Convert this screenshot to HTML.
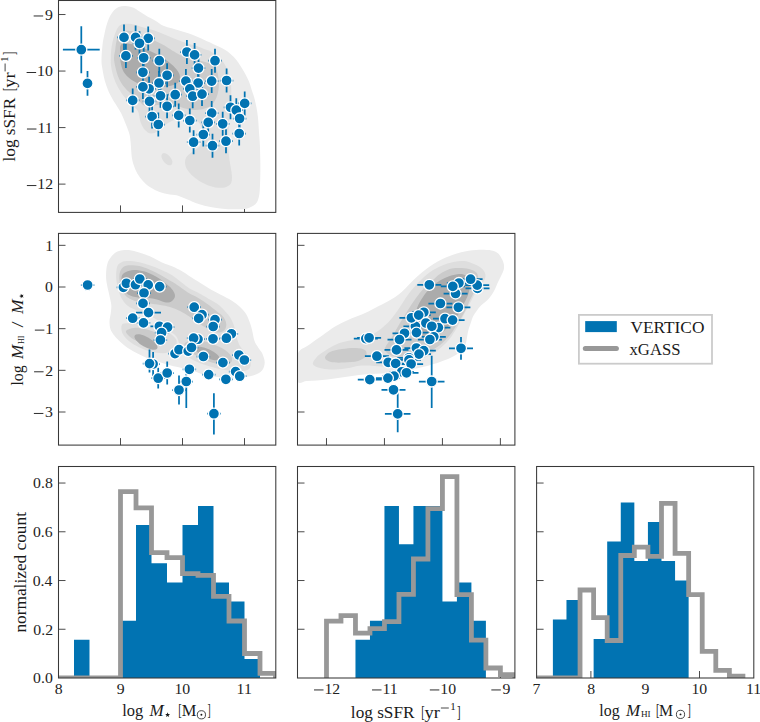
<!DOCTYPE html><html><head><meta charset="utf-8"><style>html,body{margin:0;padding:0;background:#fff;width:760px;height:722px;overflow:hidden}svg{display:block}.t{font-family:"Liberation Serif",serif;font-size:14.6px;fill:#222}.l{font-family:"Liberation Serif",serif;font-size:17px;fill:#1a1a1a}.i{font-style:italic}</style></head><body>
<svg width="760" height="722" viewBox="0 0 760 722">
<defs><clipPath id="c00"><rect x="58.5" y="0.5" width="217.3" height="211.9"/></clipPath><clipPath id="c10"><rect x="58.5" y="233.4" width="217.3" height="211.7"/></clipPath><clipPath id="c11"><rect x="297.5" y="233.4" width="217.4" height="211.7"/></clipPath><clipPath id="c20"><rect x="58.5" y="466.5" width="217.3" height="211.5"/></clipPath><clipPath id="c21"><rect x="297.5" y="466.5" width="217.4" height="211.5"/></clipPath><clipPath id="c22"><rect x="536.6" y="466.5" width="217.2" height="211.5"/></clipPath></defs>
<rect width="760" height="722" fill="#fff"/>
<path d="M120.50,212.40V205.40" stroke="#383838" stroke-width="0.9"/>
<path d="M182.50,212.40V205.40" stroke="#383838" stroke-width="0.9"/>
<path d="M244.50,212.40V205.40" stroke="#383838" stroke-width="0.9"/>
<path d="M58.50,14.52H65.50" stroke="#383838" stroke-width="0.9"/>
<path d="M58.50,71.05H65.50" stroke="#383838" stroke-width="0.9"/>
<path d="M58.50,127.58H65.50" stroke="#383838" stroke-width="0.9"/>
<path d="M58.50,184.11H65.50" stroke="#383838" stroke-width="0.9"/>
<path d="M120.50,445.10V438.10" stroke="#383838" stroke-width="0.9"/>
<path d="M182.50,445.10V438.10" stroke="#383838" stroke-width="0.9"/>
<path d="M244.50,445.10V438.10" stroke="#383838" stroke-width="0.9"/>
<path d="M58.50,245.33H65.50" stroke="#383838" stroke-width="0.9"/>
<path d="M58.50,287.00H65.50" stroke="#383838" stroke-width="0.9"/>
<path d="M58.50,328.67H65.50" stroke="#383838" stroke-width="0.9"/>
<path d="M58.50,370.34H65.50" stroke="#383838" stroke-width="0.9"/>
<path d="M58.50,412.01H65.50" stroke="#383838" stroke-width="0.9"/>
<path d="M326.49,445.10V438.10" stroke="#383838" stroke-width="0.9"/>
<path d="M384.45,445.10V438.10" stroke="#383838" stroke-width="0.9"/>
<path d="M442.43,445.10V438.10" stroke="#383838" stroke-width="0.9"/>
<path d="M500.39,445.10V438.10" stroke="#383838" stroke-width="0.9"/>
<path d="M297.50,245.33H304.50" stroke="#383838" stroke-width="0.9"/>
<path d="M297.50,287.00H304.50" stroke="#383838" stroke-width="0.9"/>
<path d="M297.50,328.67H304.50" stroke="#383838" stroke-width="0.9"/>
<path d="M297.50,370.34H304.50" stroke="#383838" stroke-width="0.9"/>
<path d="M297.50,412.01H304.50" stroke="#383838" stroke-width="0.9"/>
<path d="M120.50,678.00V671.00" stroke="#383838" stroke-width="0.9"/>
<path d="M182.50,678.00V671.00" stroke="#383838" stroke-width="0.9"/>
<path d="M244.50,678.00V671.00" stroke="#383838" stroke-width="0.9"/>
<path d="M58.50,629.26H65.50" stroke="#383838" stroke-width="0.9"/>
<path d="M58.50,580.52H65.50" stroke="#383838" stroke-width="0.9"/>
<path d="M58.50,531.78H65.50" stroke="#383838" stroke-width="0.9"/>
<path d="M58.50,483.04H65.50" stroke="#383838" stroke-width="0.9"/>
<path d="M326.49,678.00V671.00" stroke="#383838" stroke-width="0.9"/>
<path d="M384.45,678.00V671.00" stroke="#383838" stroke-width="0.9"/>
<path d="M442.43,678.00V671.00" stroke="#383838" stroke-width="0.9"/>
<path d="M500.39,678.00V671.00" stroke="#383838" stroke-width="0.9"/>
<path d="M297.50,629.26H304.50" stroke="#383838" stroke-width="0.9"/>
<path d="M297.50,580.52H304.50" stroke="#383838" stroke-width="0.9"/>
<path d="M297.50,531.78H304.50" stroke="#383838" stroke-width="0.9"/>
<path d="M297.50,483.04H304.50" stroke="#383838" stroke-width="0.9"/>
<path d="M590.90,678.00V671.00" stroke="#383838" stroke-width="0.9"/>
<path d="M645.20,678.00V671.00" stroke="#383838" stroke-width="0.9"/>
<path d="M699.50,678.00V671.00" stroke="#383838" stroke-width="0.9"/>
<path d="M536.60,629.26H543.60" stroke="#383838" stroke-width="0.9"/>
<path d="M536.60,580.52H543.60" stroke="#383838" stroke-width="0.9"/>
<path d="M536.60,531.78H543.60" stroke="#383838" stroke-width="0.9"/>
<path d="M536.60,483.04H543.60" stroke="#383838" stroke-width="0.9"/>
<g clip-path="url(#c00)">
<path d="M101.5,60.0 C101.5,56.2 102.0,49.5 102.5,45.0 C103.0,40.5 103.7,37.3 104.6,33.3 C105.5,29.3 106.6,24.4 108.0,20.8 C109.4,17.2 111.2,13.9 113.0,11.6 C114.8,9.3 116.7,8.0 118.8,7.1 C120.9,6.2 123.1,5.9 125.4,6.0 C127.8,6.1 130.5,6.6 132.9,7.5 C135.3,8.4 137.4,10.2 139.6,11.6 C141.8,13.0 143.6,14.3 146.2,15.8 C148.8,17.3 152.2,18.8 155.0,20.5 C157.8,22.2 160.5,24.5 163.3,25.8 C166.1,27.1 168.8,27.5 171.6,28.3 C174.4,29.1 177.1,30.0 179.9,30.8 C182.7,31.6 185.5,32.3 188.3,33.3 C191.1,34.3 193.8,35.4 196.6,36.6 C199.4,37.8 202.1,39.0 204.9,40.3 C207.7,41.6 210.2,42.6 213.5,44.2 C216.8,45.8 221.6,47.7 224.9,49.8 C228.2,51.9 230.8,54.1 233.3,56.6 C235.8,59.1 238.0,62.1 239.9,64.9 C241.8,67.7 243.4,70.5 244.9,73.3 C246.4,76.1 247.9,78.8 249.0,81.6 C250.1,84.4 250.8,87.2 251.7,89.9 C252.6,92.6 253.4,94.6 254.2,97.5 C255.0,100.4 255.8,103.8 256.5,107.5 C257.2,111.2 257.8,115.8 258.2,120.0 C258.6,124.2 258.7,128.2 259.0,132.4 C259.3,136.6 259.7,140.3 259.9,144.9 C260.1,149.5 260.2,155.0 260.3,160.0 C260.4,165.0 260.4,170.8 260.3,175.0 C260.2,179.2 260.2,181.6 260.0,185.0 C259.8,188.4 259.8,192.5 259.1,195.7 C258.4,198.9 257.8,201.8 255.6,204.0 C253.4,206.2 249.7,207.8 246.1,208.7 C242.5,209.6 238.1,209.3 234.2,209.3 C230.2,209.3 226.3,209.1 222.4,208.7 C218.5,208.3 214.4,207.7 210.5,206.9 C206.6,206.1 202.6,205.3 198.7,204.0 C194.8,202.7 190.1,200.5 186.8,199.2 C183.5,197.8 181.6,196.7 178.8,195.9 C176.0,195.1 173.0,195.2 169.8,194.6 C166.6,194.0 162.8,193.3 159.6,192.1 C156.4,190.9 153.4,189.4 150.7,187.6 C147.9,185.8 145.3,183.5 143.1,181.2 C140.9,178.9 138.9,176.4 137.3,173.6 C135.7,170.8 134.4,167.6 133.5,164.6 C132.6,161.6 132.0,158.9 131.6,155.7 C131.2,152.5 131.2,148.9 130.9,145.5 C130.6,142.1 130.3,138.1 129.7,135.3 C129.1,132.5 128.4,130.9 127.5,128.5 C126.6,126.1 125.5,123.5 124.5,121.0 C123.5,118.5 122.5,115.9 121.3,113.5 C120.1,111.1 118.6,109.0 117.1,106.5 C115.6,104.0 113.6,101.0 112.1,98.2 C110.6,95.4 109.2,93.0 108.0,89.9 C106.8,86.9 105.6,83.6 104.6,79.9 C103.6,76.2 102.7,70.8 102.2,67.5 C101.7,64.2 101.5,63.8 101.5,60.0Z" fill="#ebebeb"/>
<path d="M111.2,50.0 C111.5,47.3 111.9,44.5 112.5,42.0 C113.1,39.5 113.7,37.4 114.6,35.0 C115.5,32.6 116.6,29.2 118.0,27.4 C119.4,25.6 120.7,24.7 122.9,24.1 C125.1,23.6 128.5,23.7 131.3,24.1 C134.2,24.5 137.4,25.8 140.0,26.5 C142.6,27.2 144.5,27.8 147.0,28.5 C149.5,29.2 152.3,29.9 155.0,30.8 C157.7,31.7 160.5,33.0 163.3,34.1 C166.1,35.2 168.8,36.3 171.6,37.4 C174.4,38.5 177.4,39.8 179.9,40.8 C182.4,41.8 183.8,42.4 186.6,43.3 C189.4,44.2 193.7,45.0 196.6,46.0 C199.5,47.0 201.8,48.2 204.0,49.0 C206.2,49.8 207.9,49.9 210.0,51.0 C212.1,52.1 214.5,53.8 216.6,55.5 C218.7,57.2 220.5,58.5 222.4,61.0 C224.3,63.5 226.5,67.1 227.9,70.4 C229.3,73.7 230.0,77.3 230.6,80.8 C231.2,84.3 231.3,87.8 231.3,91.2 C231.3,94.7 230.9,97.5 230.6,101.5 C230.3,105.5 229.8,110.2 229.5,115.0 C229.2,119.8 228.8,125.0 228.5,130.0 C228.2,135.0 227.8,140.0 228.0,145.0 C228.2,150.0 228.8,154.9 229.5,160.0 C230.2,165.1 231.7,171.5 231.9,175.5 C232.1,179.5 231.9,181.8 230.7,183.8 C229.5,185.8 227.4,186.8 224.8,187.4 C222.2,188.0 218.7,188.0 215.3,187.4 C211.9,186.8 208.0,185.4 204.6,183.8 C201.2,182.2 197.9,180.1 195.1,177.9 C192.3,175.7 189.7,173.2 188.0,170.8 C186.3,168.4 185.3,166.0 185.1,163.7 C184.8,161.4 185.3,158.9 186.5,157.0 C187.7,155.1 189.8,153.8 192.0,152.0 C194.2,150.2 198.2,148.8 200.0,146.0 C201.8,143.2 203.0,138.7 203.0,135.0 C203.0,131.3 201.8,126.7 200.0,124.0 C198.2,121.3 195.3,120.0 192.0,119.0 C188.7,118.0 184.0,117.3 180.0,118.0 C176.0,118.7 171.7,120.8 168.0,123.0 C164.3,125.2 160.8,129.2 158.0,131.0 C155.2,132.8 153.2,133.7 151.0,133.5 C148.8,133.3 146.8,131.9 145.0,130.0 C143.2,128.1 141.7,125.2 140.5,122.0 C139.3,118.8 139.4,113.8 137.9,111.0 C136.4,108.2 133.4,107.0 131.3,104.9 C129.2,102.8 127.4,100.7 125.4,98.2 C123.5,95.7 121.4,93.0 119.6,89.9 C117.8,86.9 116.0,83.6 114.6,79.9 C113.2,76.2 111.9,71.2 111.3,67.5 C110.7,63.9 110.8,60.9 110.8,58.0 C110.8,55.1 110.9,52.7 111.2,50.0Z" fill="#dedede"/>
<path d="M115.2,49.9 C115.6,47.1 115.8,43.7 116.5,41.0 C117.2,38.3 118.0,35.2 119.5,33.5 C121.0,31.8 122.8,31.1 125.4,30.8 C128.0,30.6 131.7,31.1 135.0,32.0 C138.3,32.9 141.7,34.5 145.0,36.0 C148.3,37.5 152.2,39.4 155.0,40.8 C157.8,42.1 159.5,43.0 161.6,44.1 C163.7,45.2 165.4,46.1 167.5,47.4 C169.6,48.6 172.0,50.4 174.1,51.6 C176.2,52.9 177.3,53.9 180.0,54.9 C182.7,55.9 186.7,56.5 190.0,57.5 C193.3,58.5 197.0,59.9 200.0,60.8 C203.0,61.7 205.4,62.0 208.0,63.0 C210.6,64.0 213.6,63.9 215.4,66.9 C217.2,69.9 218.5,76.2 218.8,80.8 C219.2,85.4 218.7,90.6 217.5,94.6 C216.3,98.6 214.3,102.6 211.9,105.0 C209.5,107.4 206.0,108.2 203.0,109.0 C200.0,109.8 197.0,110.1 194.0,110.0 C191.0,109.9 188.2,109.3 185.0,108.5 C181.8,107.7 178.3,105.8 175.0,105.0 C171.7,104.2 168.3,103.9 165.0,104.0 C161.7,104.1 157.8,105.1 155.0,105.5 C152.2,105.9 150.1,106.7 147.9,106.5 C145.8,106.3 144.1,105.9 142.1,104.2 C140.1,102.5 138.3,98.6 136.2,96.6 C134.1,94.6 131.7,94.1 129.6,92.4 C127.5,90.7 125.6,88.9 123.8,86.6 C122.0,84.2 120.2,81.5 118.8,78.3 C117.4,75.1 116.3,70.9 115.5,67.5 C114.7,64.1 114.0,60.9 114.0,58.0 C114.0,55.1 114.8,52.7 115.2,49.9Z" fill="#cbcbcb"/>
<path d="M120.0,51.0 C120.0,48.3 119.8,46.8 120.5,45.5 C121.2,44.2 122.2,43.8 124.0,43.5 C125.8,43.2 128.1,43.4 131.0,44.0 C133.9,44.6 138.1,46.0 141.6,47.3 C145.1,48.6 148.6,50.3 152.1,52.0 C155.6,53.7 159.1,55.1 162.6,57.4 C166.1,59.7 170.4,63.0 173.2,65.8 C176.0,68.6 178.6,71.6 179.5,74.2 C180.4,76.8 179.9,79.8 178.8,81.6 C177.8,83.4 175.9,84.1 173.2,85.0 C170.5,85.9 166.1,86.7 162.6,87.0 C159.1,87.3 155.5,87.3 152.0,87.0 C148.5,86.7 145.1,86.2 141.6,85.0 C138.1,83.8 134.0,81.7 131.0,79.5 C128.0,77.3 125.5,75.1 123.7,72.1 C122.0,69.1 121.1,65.1 120.5,61.6 C119.9,58.1 120.0,53.7 120.0,51.0Z" fill="#ababab"/>
<ellipse cx="166.9" cy="159.2" rx="7.2" ry="4.0" transform="rotate(50.0 166.9 159.2)" fill="#dedede"/>
</g>
<g clip-path="url(#c00)">
<g stroke="#0173b2" stroke-width="1.75" fill="none">
<path d="M81.3,26.2V73.2"/>
<path d="M62.9,49.7H99.7"/>
<path d="M87.5,71.1V95.7"/>
<path d="M82.0,83.4H93.0"/>
<path d="M124.0,24.4V49.9"/>
<path d="M117.3,37.4H130.7"/>
<path d="M135.6,25.4V49.4"/>
<path d="M128.9,37.4H142.3"/>
<path d="M148.2,26.4V50.4"/>
<path d="M141.5,38.4H154.9"/>
<path d="M139.5,31.3V55.3"/>
<path d="M132.8,43.3H146.2"/>
<path d="M125.9,43.9V67.9"/>
<path d="M119.2,55.9H132.6"/>
<path d="M143.7,45.8V69.8"/>
<path d="M137.0,57.8H150.4"/>
<path d="M159.3,48.7V72.7"/>
<path d="M152.6,60.7H166.0"/>
<path d="M142.9,60.3V84.3"/>
<path d="M136.2,72.3H149.6"/>
<path d="M149.1,76.8V100.8"/>
<path d="M142.4,88.8H155.8"/>
<path d="M142.9,74.9V98.9"/>
<path d="M136.2,86.9H149.6"/>
<path d="M159.0,71.0V95.0"/>
<path d="M152.3,83.0H165.7"/>
<path d="M132.7,88.4V112.4"/>
<path d="M126.0,100.4H139.4"/>
<path d="M149.5,89.4V113.4"/>
<path d="M142.8,101.4H156.2"/>
<path d="M160.5,83.8V107.8"/>
<path d="M153.8,95.8H167.2"/>
<path d="M152.1,104.5V128.5"/>
<path d="M145.4,116.5H158.8"/>
<path d="M158.3,112.5V136.5"/>
<path d="M151.6,124.5H165.0"/>
<path d="M186.9,40.0V64.0"/>
<path d="M180.2,52.0H193.6"/>
<path d="M194.6,42.9V66.9"/>
<path d="M187.9,54.9H201.3"/>
<path d="M215.0,48.7V72.7"/>
<path d="M208.3,60.7H221.7"/>
<path d="M198.5,56.1V80.1"/>
<path d="M191.8,68.1H205.2"/>
<path d="M167.1,63.3V87.3"/>
<path d="M160.4,75.3H173.8"/>
<path d="M185.9,69.1V93.1"/>
<path d="M179.2,81.1H192.6"/>
<path d="M198.1,71.0V95.0"/>
<path d="M191.4,83.0H204.8"/>
<path d="M211.7,69.1V93.1"/>
<path d="M205.0,81.1H218.4"/>
<path d="M226.6,68.5V92.5"/>
<path d="M219.9,80.5H233.3"/>
<path d="M175.2,82.7V106.7"/>
<path d="M168.5,94.7H181.9"/>
<path d="M189.8,76.9V100.9"/>
<path d="M183.1,88.9H196.5"/>
<path d="M192.7,84.2V108.2"/>
<path d="M186.0,96.2H199.4"/>
<path d="M202.0,82.1V106.1"/>
<path d="M195.3,94.1H208.7"/>
<path d="M167.1,94.3V118.3"/>
<path d="M160.4,106.3H173.8"/>
<path d="M178.7,103.4V127.4"/>
<path d="M172.0,115.4H185.4"/>
<path d="M189.8,108.5V132.5"/>
<path d="M183.1,120.5H196.5"/>
<path d="M211.7,101.1V125.1"/>
<path d="M205.0,113.1H218.4"/>
<path d="M208.2,110.4V134.4"/>
<path d="M201.5,122.4H214.9"/>
<path d="M222.7,111.8V135.8"/>
<path d="M216.0,123.8H229.4"/>
<path d="M230.5,95.3V119.3"/>
<path d="M223.8,107.3H237.2"/>
<path d="M236.3,98.2V122.2"/>
<path d="M229.6,110.2H243.0"/>
<path d="M244.7,91.4V115.4"/>
<path d="M238.0,103.4H251.4"/>
<path d="M239.6,106.5V130.5"/>
<path d="M232.9,118.5H246.3"/>
<path d="M239.2,121.5V145.5"/>
<path d="M232.5,133.5H245.9"/>
<path d="M203.3,122.5V146.5"/>
<path d="M196.6,134.5H210.0"/>
<path d="M193.6,130.2V154.2"/>
<path d="M186.9,142.2H200.3"/>
<path d="M212.5,133.7V157.7"/>
<path d="M205.8,145.7H219.2"/>
<path d="M226.0,129.2V153.2"/>
<path d="M219.3,141.2H232.7"/>
</g>
<g fill="#0173b2" stroke="#fff" stroke-width="1.3">
<circle cx="81.3" cy="49.7" r="5.5"/>
<circle cx="87.5" cy="83.4" r="5.5"/>
<circle cx="124.0" cy="37.4" r="5.5"/>
<circle cx="135.6" cy="37.4" r="5.5"/>
<circle cx="148.2" cy="38.4" r="5.5"/>
<circle cx="139.5" cy="43.3" r="5.5"/>
<circle cx="125.9" cy="55.9" r="5.5"/>
<circle cx="143.7" cy="57.8" r="5.5"/>
<circle cx="159.3" cy="60.7" r="5.5"/>
<circle cx="142.9" cy="72.3" r="5.5"/>
<circle cx="149.1" cy="88.8" r="5.5"/>
<circle cx="142.9" cy="86.9" r="5.5"/>
<circle cx="159.0" cy="83.0" r="5.5"/>
<circle cx="132.7" cy="100.4" r="5.5"/>
<circle cx="149.5" cy="101.4" r="5.5"/>
<circle cx="160.5" cy="95.8" r="5.5"/>
<circle cx="152.1" cy="116.5" r="5.5"/>
<circle cx="158.3" cy="124.5" r="5.5"/>
<circle cx="186.9" cy="52.0" r="5.5"/>
<circle cx="194.6" cy="54.9" r="5.5"/>
<circle cx="215.0" cy="60.7" r="5.5"/>
<circle cx="198.5" cy="68.1" r="5.5"/>
<circle cx="167.1" cy="75.3" r="5.5"/>
<circle cx="185.9" cy="81.1" r="5.5"/>
<circle cx="198.1" cy="83.0" r="5.5"/>
<circle cx="211.7" cy="81.1" r="5.5"/>
<circle cx="226.6" cy="80.5" r="5.5"/>
<circle cx="175.2" cy="94.7" r="5.5"/>
<circle cx="189.8" cy="88.9" r="5.5"/>
<circle cx="192.7" cy="96.2" r="5.5"/>
<circle cx="202.0" cy="94.1" r="5.5"/>
<circle cx="167.1" cy="106.3" r="5.5"/>
<circle cx="178.7" cy="115.4" r="5.5"/>
<circle cx="189.8" cy="120.5" r="5.5"/>
<circle cx="211.7" cy="113.1" r="5.5"/>
<circle cx="208.2" cy="122.4" r="5.5"/>
<circle cx="222.7" cy="123.8" r="5.5"/>
<circle cx="230.5" cy="107.3" r="5.5"/>
<circle cx="236.3" cy="110.2" r="5.5"/>
<circle cx="244.7" cy="103.4" r="5.5"/>
<circle cx="239.6" cy="118.5" r="5.5"/>
<circle cx="239.2" cy="133.5" r="5.5"/>
<circle cx="203.3" cy="134.5" r="5.5"/>
<circle cx="193.6" cy="142.2" r="5.5"/>
<circle cx="212.5" cy="145.7" r="5.5"/>
<circle cx="226.0" cy="141.2" r="5.5"/>
</g></g>
<g clip-path="url(#c10)">
<path d="M106.5,282.0 C106.0,278.3 106.0,276.1 106.1,273.2 C106.2,270.3 106.5,267.0 107.2,264.4 C107.9,261.8 109.0,259.7 110.5,257.7 C112.0,255.7 114.0,253.4 116.0,252.2 C118.0,250.9 120.1,250.5 122.7,250.2 C125.3,249.9 128.5,250.0 131.6,250.5 C134.7,251.0 138.4,252.3 141.5,253.3 C144.6,254.3 147.1,255.1 150.4,256.6 C153.7,258.1 157.8,260.5 161.5,262.2 C165.2,263.9 169.2,265.1 172.6,266.6 C175.9,268.1 178.7,269.4 181.6,271.0 C184.5,272.6 186.9,274.5 190.0,276.5 C193.1,278.5 196.9,280.8 200.4,283.0 C203.9,285.2 207.3,287.5 210.8,289.5 C214.3,291.5 217.8,293.2 221.2,295.0 C224.6,296.8 228.4,298.5 231.5,300.5 C234.6,302.5 237.4,304.6 239.8,306.8 C242.2,309.1 244.4,311.2 246.1,314.0 C247.8,316.8 249.1,320.5 250.2,323.5 C251.3,326.5 251.8,329.1 252.5,332.0 C253.2,334.9 253.5,338.3 254.5,341.0 C255.5,343.7 257.2,345.8 258.5,348.0 C259.8,350.2 261.5,351.6 262.5,354.0 C263.5,356.4 264.8,359.8 264.7,362.5 C264.6,365.2 263.9,368.3 262.0,370.5 C260.1,372.7 256.7,374.3 253.0,375.5 C249.3,376.7 245.2,377.2 240.0,377.5 C234.8,377.8 227.8,377.9 222.0,377.5 C216.2,377.1 209.6,376.1 205.0,375.0 C200.4,373.9 198.8,372.5 194.2,371.2 C189.6,369.9 182.9,368.5 177.6,367.1 C172.3,365.7 167.6,364.5 162.3,362.9 C157.0,361.3 151.0,359.6 145.7,357.4 C140.4,355.2 134.4,352.0 130.3,349.5 C126.2,347.0 123.6,344.7 121.0,342.4 C118.4,340.1 116.2,338.0 114.5,335.8 C112.8,333.6 111.3,331.6 110.5,329.2 C109.7,326.8 109.5,324.0 109.5,321.3 C109.5,318.6 110.5,315.7 110.8,313.0 C111.1,310.3 111.5,307.9 111.3,305.0 C111.1,302.1 110.2,299.2 109.4,295.4 C108.6,291.6 107.0,285.7 106.5,282.0Z" fill="#ebebeb"/>
<path d="M116.2,278.0 C116.0,274.1 116.3,269.2 117.2,266.6 C118.1,264.0 119.8,263.1 121.6,262.2 C123.4,261.3 125.2,261.1 128.2,261.1 C131.1,261.1 135.6,261.5 139.3,262.2 C143.0,262.9 146.7,264.2 150.4,265.5 C154.1,266.8 157.8,268.3 161.5,270.0 C165.2,271.7 169.2,273.4 172.6,275.5 C175.9,277.6 178.7,280.4 181.6,282.6 C184.5,284.8 186.9,286.8 190.0,288.7 C193.1,290.6 196.9,292.0 200.4,293.9 C203.9,295.8 207.7,298.2 210.8,300.1 C213.9,302.0 216.5,303.2 219.1,305.3 C221.7,307.4 224.2,310.2 226.3,312.6 C228.4,315.0 230.1,317.2 231.5,319.8 C232.9,322.4 233.8,325.2 234.7,328.2 C235.6,331.1 235.8,334.5 236.7,337.5 C237.6,340.5 238.4,343.2 240.0,346.0 C241.6,348.8 244.2,351.3 246.0,354.0 C247.8,356.7 250.0,359.5 250.5,362.0 C251.0,364.5 250.8,367.4 249.0,369.0 C247.2,370.6 244.0,371.3 240.0,371.5 C236.0,371.7 230.0,370.8 225.0,370.0 C220.0,369.2 215.0,368.0 210.0,366.5 C205.0,365.0 199.2,363.1 195.0,361.0 C190.8,358.9 187.5,356.7 185.0,354.0 C182.5,351.3 181.5,348.0 180.0,345.0 C178.5,342.0 178.0,338.5 176.0,336.0 C174.0,333.5 170.7,332.3 168.0,330.0 C165.3,327.7 163.0,324.3 160.0,322.0 C157.0,319.7 153.7,317.8 150.0,316.0 C146.3,314.2 141.7,312.7 138.0,311.0 C134.3,309.3 130.7,308.0 128.0,306.0 C125.3,304.0 123.6,301.7 122.0,299.0 C120.4,296.3 119.5,293.5 118.5,290.0 C117.5,286.5 116.4,281.9 116.2,278.0Z" fill="#dedede"/>
<path d="M121.7,325.3 C122.3,323.7 123.3,323.5 126.3,323.3 C129.3,323.1 135.1,323.2 139.5,324.0 C143.9,324.8 148.7,326.9 152.6,327.9 C156.5,328.9 160.2,329.1 163.0,330.0 C165.8,330.9 167.5,331.6 169.7,333.2 C171.9,334.8 175.4,337.4 176.3,339.7 C177.2,342.0 176.8,344.8 175.0,347.0 C173.2,349.2 169.6,352.1 165.8,352.9 C162.0,353.7 156.4,352.9 152.0,352.0 C147.6,351.1 143.3,349.4 139.5,347.6 C135.7,345.8 131.8,343.5 128.9,341.1 C126.1,338.7 123.6,335.8 122.4,333.2 C121.2,330.6 121.1,326.9 121.7,325.3Z" fill="#dedede"/>
<path d="M119.4,275.5 C119.6,272.8 120.3,270.5 121.6,268.8 C122.9,267.1 124.1,266.0 127.1,265.5 C130.1,265.0 135.4,265.2 139.3,266.0 C143.2,266.8 146.7,268.4 150.4,270.0 C154.1,271.6 157.8,273.5 161.5,275.5 C165.2,277.5 169.8,280.4 172.6,282.1 C175.4,283.8 175.8,284.1 178.4,285.8 C181.0,287.5 184.6,290.5 187.9,292.5 C191.2,294.5 195.0,296.0 198.3,298.0 C201.6,300.0 204.6,302.1 207.7,304.3 C210.8,306.6 214.4,309.4 217.0,311.5 C219.6,313.6 221.6,314.6 223.2,316.7 C224.8,318.8 226.1,321.8 226.3,324.0 C226.5,326.2 225.7,328.8 224.3,330.2 C222.9,331.6 220.4,332.5 218.0,332.5 C215.6,332.5 213.0,331.4 210.0,330.0 C207.0,328.6 203.3,326.2 200.0,324.0 C196.7,321.8 193.3,319.2 190.0,317.0 C186.7,314.8 183.3,312.7 180.0,311.0 C176.7,309.3 173.3,308.0 170.0,307.0 C166.7,306.0 163.3,305.6 160.0,305.0 C156.7,304.4 154.2,304.2 150.0,303.5 C145.8,302.8 139.2,302.4 135.0,301.0 C130.8,299.6 127.4,297.7 125.0,295.0 C122.6,292.3 121.4,288.2 120.5,285.0 C119.6,281.8 119.2,278.2 119.4,275.5Z" fill="#cbcbcb"/>
<path d="M126.3,330.5 C127.4,329.4 130.9,328.1 134.2,327.9 C137.5,327.7 142.3,328.3 146.0,329.2 C149.7,330.1 154.0,331.4 156.6,333.2 C159.2,334.9 161.6,337.7 161.8,339.7 C162.0,341.7 160.5,344.2 157.9,345.0 C155.3,345.8 149.9,345.4 146.0,344.5 C142.1,343.6 137.3,341.4 134.2,339.7 C131.1,338.0 128.9,336.0 127.6,334.5 C126.3,333.0 125.2,331.6 126.3,330.5Z" fill="#cbcbcb"/>
<path d="M185.0,343.0 C186.5,341.7 190.8,340.0 195.0,340.0 C199.2,340.0 205.0,341.3 210.0,343.0 C215.0,344.7 221.3,347.5 225.0,350.0 C228.7,352.5 231.3,355.7 232.0,358.0 C232.7,360.3 231.3,363.0 229.0,364.0 C226.7,365.0 222.0,364.7 218.0,364.0 C214.0,363.3 209.3,361.8 205.0,360.0 C200.7,358.2 195.2,355.0 192.0,353.0 C188.8,351.0 187.2,349.7 186.0,348.0 C184.8,346.3 183.5,344.3 185.0,343.0Z" fill="#cbcbcb"/>
<path d="M121.6,276.6 C122.1,274.1 124.0,273.2 126.0,272.1 C128.0,271.0 130.7,270.1 133.8,270.0 C136.9,269.9 141.1,270.5 144.8,271.6 C148.5,272.7 152.2,274.5 155.9,276.6 C159.6,278.7 164.2,282.2 167.0,284.4 C169.8,286.6 171.3,288.0 172.6,289.9 C173.9,291.8 175.1,294.1 175.0,296.0 C174.9,297.9 173.5,299.9 172.0,301.0 C170.5,302.1 168.4,302.8 165.9,302.5 C163.4,302.2 160.0,300.2 157.0,299.5 C154.0,298.8 151.2,298.3 148.0,298.0 C144.8,297.7 141.3,298.1 138.0,297.5 C134.7,296.9 130.5,296.2 128.0,294.5 C125.5,292.8 124.1,290.0 123.0,287.0 C121.9,284.0 121.1,279.1 121.6,276.6Z" fill="#ababab"/>
<ellipse cx="146.0" cy="342.0" rx="13.0" ry="5.0" transform="rotate(30.0 146.0 342.0)" fill="#ababab"/>
<ellipse cx="207.5" cy="353.5" rx="13.0" ry="4.5" transform="rotate(25.0 207.5 353.5)" fill="#ababab"/>
</g>
<g clip-path="url(#c10)">
<g stroke="#0173b2" stroke-width="1.75" fill="none">
<path d="M80.9,285.0H94.3"/>
<path d="M123.4,285.3V289.3"/>
<path d="M116.7,287.3H130.1"/>
<path d="M126.4,281.3V285.3"/>
<path d="M119.7,283.3H133.1"/>
<path d="M135.5,282.7V286.7"/>
<path d="M128.8,284.7H142.2"/>
<path d="M139.8,277.0V281.0"/>
<path d="M133.1,279.0H146.5"/>
<path d="M148.2,282.9V286.9"/>
<path d="M141.5,284.9H154.9"/>
<path d="M159.7,284.6V288.6"/>
<path d="M153.0,286.6H166.4"/>
<path d="M144.0,291.0V295.0"/>
<path d="M137.3,293.0H150.7"/>
<path d="M143.0,301.4V305.4"/>
<path d="M136.3,303.4H149.7"/>
<path d="M148.5,310.6V314.6"/>
<path d="M136.0,312.6H161.0"/>
<path d="M132.7,316.2V320.2"/>
<path d="M126.0,318.2H139.4"/>
<path d="M143.5,320.9V324.9"/>
<path d="M136.8,322.9H150.2"/>
<path d="M159.4,324.3V328.3"/>
<path d="M150.4,326.3H168.4"/>
<path d="M167.6,325.2V329.2"/>
<path d="M160.9,327.2H174.3"/>
<path d="M161.6,330.7V334.7"/>
<path d="M154.9,332.7H168.3"/>
<path d="M160.4,338.0V342.0"/>
<path d="M153.7,340.0H167.1"/>
<path d="M194.2,305.2V309.2"/>
<path d="M187.5,307.2H200.9"/>
<path d="M202.0,312.7V316.7"/>
<path d="M195.3,314.7H208.7"/>
<path d="M198.7,316.4V320.4"/>
<path d="M192.0,318.4H205.4"/>
<path d="M215.0,317.6V321.6"/>
<path d="M208.3,319.6H221.7"/>
<path d="M213.2,324.5V328.5"/>
<path d="M206.5,326.5H219.9"/>
<path d="M198.0,337.2V341.2"/>
<path d="M191.3,339.2H204.7"/>
<path d="M193.6,336.2V340.2"/>
<path d="M186.9,338.2H200.3"/>
<path d="M213.0,336.8V340.8"/>
<path d="M206.3,338.8H219.7"/>
<path d="M231.4,331.8V335.8"/>
<path d="M224.7,333.8H238.1"/>
<path d="M226.4,336.2V340.2"/>
<path d="M219.7,338.2H233.1"/>
<path d="M175.0,351.6V355.6"/>
<path d="M168.3,353.6H181.7"/>
<path d="M179.0,347.7V351.7"/>
<path d="M172.3,349.7H185.7"/>
<path d="M188.2,349.1V353.1"/>
<path d="M181.5,351.1H194.9"/>
<path d="M191.5,345.5V349.5"/>
<path d="M184.8,347.5H198.2"/>
<path d="M203.4,354.5V358.5"/>
<path d="M196.7,356.5H210.1"/>
<path d="M222.9,360.6V364.6"/>
<path d="M216.2,362.6H229.6"/>
<path d="M238.9,353.0V357.0"/>
<path d="M232.2,355.0H245.6"/>
<path d="M244.4,358.0V362.0"/>
<path d="M237.7,360.0H251.1"/>
<path d="M153.1,352.0V376.0"/>
<path d="M146.4,364.0H159.8"/>
<path d="M149.5,349.6V372.6"/>
<path d="M142.8,363.6H156.2"/>
<path d="M158.2,367.8V388.6"/>
<path d="M151.5,378.2H164.9"/>
<path d="M167.2,361.6V384.5"/>
<path d="M160.5,373.0H173.9"/>
<path d="M189.4,365.3V373.3"/>
<path d="M182.7,369.3H196.1"/>
<path d="M186.3,373.5V408.0"/>
<path d="M179.6,381.5H193.0"/>
<path d="M179.0,375.5V404.6"/>
<path d="M172.3,390.0H185.7"/>
<path d="M208.7,370.6V378.6"/>
<path d="M202.0,374.6H215.4"/>
<path d="M225.9,376.3V382.3"/>
<path d="M219.2,379.3H232.6"/>
<path d="M235.6,368.6V374.6"/>
<path d="M228.9,371.6H242.3"/>
<path d="M239.7,373.2V379.2"/>
<path d="M233.0,376.2H246.4"/>
<path d="M213.9,393.3V434.4"/>
<path d="M207.2,413.7H220.6"/>
</g>
<g fill="#0173b2" stroke="#fff" stroke-width="1.3">
<circle cx="87.6" cy="285.0" r="5.5"/>
<circle cx="123.4" cy="287.3" r="5.5"/>
<circle cx="126.4" cy="283.3" r="5.5"/>
<circle cx="135.5" cy="284.7" r="5.5"/>
<circle cx="139.8" cy="279.0" r="5.5"/>
<circle cx="148.2" cy="284.9" r="5.5"/>
<circle cx="159.7" cy="286.6" r="5.5"/>
<circle cx="144.0" cy="293.0" r="5.5"/>
<circle cx="143.0" cy="303.4" r="5.5"/>
<circle cx="148.5" cy="312.6" r="5.5"/>
<circle cx="132.7" cy="318.2" r="5.5"/>
<circle cx="143.5" cy="322.9" r="5.5"/>
<circle cx="159.4" cy="326.3" r="5.5"/>
<circle cx="167.6" cy="327.2" r="5.5"/>
<circle cx="161.6" cy="332.7" r="5.5"/>
<circle cx="160.4" cy="340.0" r="5.5"/>
<circle cx="194.2" cy="307.2" r="5.5"/>
<circle cx="202.0" cy="314.7" r="5.5"/>
<circle cx="198.7" cy="318.4" r="5.5"/>
<circle cx="215.0" cy="319.6" r="5.5"/>
<circle cx="213.2" cy="326.5" r="5.5"/>
<circle cx="198.0" cy="339.2" r="5.5"/>
<circle cx="193.6" cy="338.2" r="5.5"/>
<circle cx="213.0" cy="338.8" r="5.5"/>
<circle cx="231.4" cy="333.8" r="5.5"/>
<circle cx="226.4" cy="338.2" r="5.5"/>
<circle cx="175.0" cy="353.6" r="5.5"/>
<circle cx="179.0" cy="349.7" r="5.5"/>
<circle cx="188.2" cy="351.1" r="5.5"/>
<circle cx="191.5" cy="347.5" r="5.5"/>
<circle cx="203.4" cy="356.5" r="5.5"/>
<circle cx="222.9" cy="362.6" r="5.5"/>
<circle cx="238.9" cy="355.0" r="5.5"/>
<circle cx="244.4" cy="360.0" r="5.5"/>
<circle cx="153.1" cy="364.0" r="5.5"/>
<circle cx="149.5" cy="363.6" r="5.5"/>
<circle cx="158.2" cy="378.2" r="5.5"/>
<circle cx="167.2" cy="373.0" r="5.5"/>
<circle cx="189.4" cy="369.3" r="5.5"/>
<circle cx="186.3" cy="381.5" r="5.5"/>
<circle cx="179.0" cy="390.0" r="5.5"/>
<circle cx="208.7" cy="374.6" r="5.5"/>
<circle cx="225.9" cy="379.3" r="5.5"/>
<circle cx="235.6" cy="371.6" r="5.5"/>
<circle cx="239.7" cy="376.2" r="5.5"/>
<circle cx="213.9" cy="413.7" r="5.5"/>
</g></g>
<g clip-path="url(#c11)">
<path d="M297.5,354.5 C299.4,348.4 305.1,347.9 309.2,344.7 C313.3,341.5 317.9,338.6 322.3,335.5 C326.7,332.4 331.1,328.9 335.5,326.3 C339.9,323.7 344.2,321.7 348.6,319.7 C353.0,317.7 357.4,316.5 361.8,314.5 C366.2,312.5 370.6,310.1 375.0,307.9 C379.4,305.7 383.7,303.9 388.1,301.3 C392.6,298.7 397.2,295.9 401.7,292.0 C406.2,288.1 410.5,282.5 415.3,278.2 C420.1,273.9 425.4,269.4 430.5,266.0 C435.6,262.6 440.7,259.9 445.8,257.6 C450.9,255.3 456.0,253.5 461.1,252.2 C466.2,250.9 471.2,250.2 476.3,249.9 C481.4,249.6 488.0,249.8 491.6,250.4 C495.2,251.0 496.3,251.8 498.2,253.6 C500.1,255.4 502.0,258.9 503.0,261.3 C504.0,263.7 504.2,265.9 504.0,268.0 C503.8,270.1 503.0,271.7 502.0,274.0 C501.0,276.3 499.5,279.0 498.2,281.7 C496.9,284.4 495.9,287.5 494.3,290.4 C492.7,293.3 490.7,296.5 488.5,299.0 C486.3,301.5 483.0,303.5 481.0,305.5 C479.0,307.5 477.9,309.3 476.6,311.1 C475.3,312.9 473.9,314.6 473.0,316.5 C472.1,318.4 471.7,320.3 471.0,322.2 C470.3,324.1 469.6,326.2 469.0,328.0 C468.4,329.8 468.3,330.5 467.7,333.2 C467.1,335.9 466.8,341.1 465.5,344.3 C464.2,347.5 462.3,349.9 459.9,352.1 C457.5,354.3 454.4,356.0 451.1,357.6 C447.8,359.2 444.4,360.5 440.0,362.0 C435.6,363.5 430.0,365.2 425.0,366.5 C420.0,367.8 415.0,369.0 410.0,370.0 C405.0,371.0 399.7,371.9 395.0,372.5 C390.3,373.1 386.2,373.2 382.0,373.5 C377.8,373.8 373.8,373.8 370.0,374.0 C366.2,374.2 362.6,374.6 359.0,375.0 C355.4,375.4 352.1,376.0 348.6,376.5 C345.1,377.0 341.5,377.5 338.0,378.0 C334.5,378.5 331.1,379.1 327.6,379.5 C324.1,379.9 320.5,380.2 317.0,380.5 C313.5,380.8 309.8,380.9 306.5,381.0 C303.2,381.1 299.0,385.4 297.5,381.0 C296.0,376.6 295.6,360.6 297.5,354.5Z" fill="#ebebeb"/>
<path d="M313.1,364.5 C312.1,362.7 314.5,360.0 316.0,358.0 C317.5,356.0 319.1,354.8 322.3,352.6 C325.6,350.4 331.1,346.7 335.5,344.7 C339.9,342.7 344.2,341.8 348.6,340.8 C353.0,339.9 357.4,340.3 361.8,339.0 C366.2,337.7 370.6,335.8 375.0,333.0 C379.4,330.2 384.3,326.2 388.1,322.4 C391.9,318.6 394.7,314.6 398.0,310.0 C401.3,305.4 404.5,299.5 407.8,295.0 C411.1,290.5 414.4,286.7 418.0,283.0 C421.6,279.3 425.3,275.5 429.1,272.7 C432.9,269.9 436.9,267.8 441.0,266.0 C445.1,264.2 449.7,262.8 453.5,262.0 C457.3,261.2 460.7,260.7 464.0,261.0 C467.3,261.3 470.2,262.4 473.3,263.7 C476.4,265.0 480.4,266.9 482.4,269.0 C484.4,271.1 485.8,273.8 485.5,276.6 C485.2,279.4 482.8,282.7 480.9,285.8 C479.0,288.9 476.0,292.2 474.0,295.5 C472.0,298.8 470.7,301.9 468.7,305.6 C466.7,309.4 464.3,313.8 462.0,318.0 C459.7,322.2 457.7,326.8 455.0,331.0 C452.3,335.2 449.8,339.2 446.0,343.0 C442.2,346.8 437.7,350.8 432.0,354.0 C426.3,357.2 419.0,359.9 412.0,362.0 C405.0,364.1 398.4,365.9 390.0,366.5 C381.6,367.1 368.7,365.2 361.8,365.5 C354.9,365.8 353.0,367.4 348.6,368.1 C344.2,368.8 339.9,369.5 335.5,369.6 C331.1,369.7 326.0,369.5 322.3,368.6 C318.6,367.8 314.2,366.3 313.1,364.5Z" fill="#dedede"/>
<path d="M385.0,350.0 C384.3,346.7 389.5,341.5 392.0,337.0 C394.5,332.5 397.3,327.5 400.0,323.0 C402.7,318.5 405.3,314.2 408.0,310.0 C410.7,305.8 413.3,301.7 416.0,298.0 C418.7,294.3 421.2,291.0 424.0,288.0 C426.8,285.0 430.3,282.3 433.0,280.0 C435.7,277.7 437.2,275.8 440.0,274.0 C442.8,272.2 446.5,270.0 449.7,269.0 C452.9,268.0 456.2,268.1 459.4,268.1 C462.6,268.1 466.1,268.2 469.0,269.0 C471.9,269.8 475.3,271.0 476.8,273.0 C478.3,275.0 478.3,278.2 478.0,281.0 C477.7,283.8 476.3,286.8 475.0,290.0 C473.7,293.2 471.7,296.5 470.0,300.0 C468.3,303.5 467.0,307.2 465.0,311.0 C463.0,314.8 460.5,319.0 458.0,323.0 C455.5,327.0 453.0,331.3 450.0,335.0 C447.0,338.7 443.7,342.2 440.0,345.0 C436.3,347.8 432.7,350.2 428.0,352.0 C423.3,353.8 417.3,355.2 412.0,356.0 C406.7,356.8 400.5,358.0 396.0,357.0 C391.5,356.0 385.7,353.3 385.0,350.0Z" fill="#cbcbcb"/>
<path d="M414.0,322.0 C414.2,318.2 415.5,312.2 417.0,308.0 C418.5,303.8 420.7,300.5 423.0,297.0 C425.3,293.5 428.2,289.8 431.0,287.0 C433.8,284.2 436.9,282.4 440.0,280.5 C443.1,278.6 446.5,277.0 449.7,275.9 C452.9,274.8 456.7,274.0 459.4,273.9 C462.1,273.8 464.4,274.3 466.0,275.5 C467.6,276.7 468.4,278.9 469.0,281.0 C469.6,283.1 469.7,285.7 469.5,288.0 C469.3,290.3 468.9,292.5 468.0,295.0 C467.1,297.5 465.5,300.2 464.2,303.0 C462.9,305.8 462.0,308.8 460.0,312.0 C458.0,315.2 454.7,318.8 452.0,322.0 C449.3,325.2 447.0,328.5 444.0,331.0 C441.0,333.5 437.3,336.0 434.0,337.0 C430.7,338.0 427.0,338.0 424.0,337.0 C421.0,336.0 417.7,333.5 416.0,331.0 C414.3,328.5 413.8,325.8 414.0,322.0Z" fill="#ababab"/>
<path d="M325.0,358.0 C324.8,356.3 327.2,353.5 330.0,352.0 C332.8,350.5 337.7,349.7 342.0,349.0 C346.3,348.3 352.2,347.8 356.0,348.0 C359.8,348.2 363.3,348.7 365.0,350.0 C366.7,351.3 367.2,354.2 366.0,356.0 C364.8,357.8 361.7,359.9 358.0,361.0 C354.3,362.1 348.5,362.3 344.0,362.5 C339.5,362.7 334.2,362.8 331.0,362.0 C327.8,361.2 325.2,359.7 325.0,358.0Z" fill="#cbcbcb"/>
</g>
<g clip-path="url(#c11)">
<g stroke="#0173b2" stroke-width="1.75" fill="none">
<path d="M429.3,283.8V285.8"/>
<path d="M417.3,284.8H441.3"/>
<path d="M455.6,292.5V294.5"/>
<path d="M443.6,293.5H467.6"/>
<path d="M458.9,282.0V284.0"/>
<path d="M446.9,283.0H470.9"/>
<path d="M452.8,285.4V287.4"/>
<path d="M440.8,286.4H464.8"/>
<path d="M477.5,287.4V289.4"/>
<path d="M465.5,288.4H489.5"/>
<path d="M477.2,284.1V286.1"/>
<path d="M465.2,285.1H489.2"/>
<path d="M470.6,278.2V280.2"/>
<path d="M458.6,279.2H482.6"/>
<path d="M440.4,302.5V304.5"/>
<path d="M428.4,303.5H452.4"/>
<path d="M458.4,306.3V308.3"/>
<path d="M446.4,307.3H470.4"/>
<path d="M445.0,317.7V319.7"/>
<path d="M433.0,318.7H457.0"/>
<path d="M452.6,319.1V321.1"/>
<path d="M440.6,320.1H464.6"/>
<path d="M404.5,332.3V334.3"/>
<path d="M392.5,333.3H416.5"/>
<path d="M415.4,325.3V327.3"/>
<path d="M403.4,326.3H427.4"/>
<path d="M416.5,331.6V333.6"/>
<path d="M404.5,332.6H428.5"/>
<path d="M399.5,338.6V340.6"/>
<path d="M387.5,339.6H411.5"/>
<path d="M416.4,347.0V349.0"/>
<path d="M404.4,348.0H428.4"/>
<path d="M423.8,349.7V351.7"/>
<path d="M411.8,350.7H435.8"/>
<path d="M419.0,353.1V355.1"/>
<path d="M407.0,354.1H431.0"/>
<path d="M461.0,336.9V359.7"/>
<path d="M449.0,348.3H473.0"/>
<path d="M409.0,356.8V358.8"/>
<path d="M397.0,357.8H421.0"/>
<path d="M365.8,337.6V339.6"/>
<path d="M353.8,338.6H377.8"/>
<path d="M369.1,336.8V338.8"/>
<path d="M357.1,337.8H381.1"/>
<path d="M396.5,348.9V350.9"/>
<path d="M384.5,349.9H408.5"/>
<path d="M376.9,355.2V357.2"/>
<path d="M364.9,356.2H388.9"/>
<path d="M388.2,361.4V363.4"/>
<path d="M376.2,362.4H400.2"/>
<path d="M395.7,362.5V364.5"/>
<path d="M383.7,363.5H407.7"/>
<path d="M409.0,358.9V360.9"/>
<path d="M397.0,359.9H421.0"/>
<path d="M411.1,363.0V365.0"/>
<path d="M399.1,364.0H423.1"/>
<path d="M401.8,370.8V372.8"/>
<path d="M389.8,371.8H413.8"/>
<path d="M406.5,371.8V373.8"/>
<path d="M394.5,372.8H418.5"/>
<path d="M394.0,375.1V377.1"/>
<path d="M382.0,376.1H406.0"/>
<path d="M387.9,377.1V379.1"/>
<path d="M375.9,378.1H399.9"/>
<path d="M369.8,378.6V380.6"/>
<path d="M357.8,379.6H381.8"/>
<path d="M393.5,388.8V390.8"/>
<path d="M381.5,389.8H405.5"/>
<path d="M431.7,355.8V408.1"/>
<path d="M418.9,381.5H444.5"/>
<path d="M397.7,393.2V432.2"/>
<path d="M384.9,413.9H410.5"/>
<path d="M423.8,311.3V313.3"/>
<path d="M411.8,312.3H435.8"/>
<path d="M411.4,316.8V318.8"/>
<path d="M399.4,317.8H423.4"/>
<path d="M418.7,314.1V316.1"/>
<path d="M406.7,315.1H430.7"/>
<path d="M425.9,322.0V324.0"/>
<path d="M413.9,323.0H437.9"/>
<path d="M438.4,326.6V328.6"/>
<path d="M426.4,327.6H450.4"/>
<path d="M431.8,325.3V327.3"/>
<path d="M419.8,326.3H443.8"/>
<path d="M433.8,335.8V337.8"/>
<path d="M421.8,336.8H445.8"/>
<path d="M429.9,338.5V340.5"/>
<path d="M417.9,339.5H441.9"/>
</g>
<g fill="#0173b2" stroke="#fff" stroke-width="1.3">
<circle cx="429.3" cy="284.8" r="5.5"/>
<circle cx="455.6" cy="293.5" r="5.5"/>
<circle cx="458.9" cy="283.0" r="5.5"/>
<circle cx="452.8" cy="286.4" r="5.5"/>
<circle cx="477.5" cy="288.4" r="5.5"/>
<circle cx="477.2" cy="285.1" r="5.5"/>
<circle cx="470.6" cy="279.2" r="5.5"/>
<circle cx="440.4" cy="303.5" r="5.5"/>
<circle cx="458.4" cy="307.3" r="5.5"/>
<circle cx="445.0" cy="318.7" r="5.5"/>
<circle cx="452.6" cy="320.1" r="5.5"/>
<circle cx="404.5" cy="333.3" r="5.5"/>
<circle cx="415.4" cy="326.3" r="5.5"/>
<circle cx="416.5" cy="332.6" r="5.5"/>
<circle cx="399.5" cy="339.6" r="5.5"/>
<circle cx="416.4" cy="348.0" r="5.5"/>
<circle cx="423.8" cy="350.7" r="5.5"/>
<circle cx="419.0" cy="354.1" r="5.5"/>
<circle cx="461.0" cy="348.3" r="5.5"/>
<circle cx="409.0" cy="357.8" r="5.5"/>
<circle cx="365.8" cy="338.6" r="5.5"/>
<circle cx="369.1" cy="337.8" r="5.5"/>
<circle cx="396.5" cy="349.9" r="5.5"/>
<circle cx="376.9" cy="356.2" r="5.5"/>
<circle cx="388.2" cy="362.4" r="5.5"/>
<circle cx="395.7" cy="363.5" r="5.5"/>
<circle cx="409.0" cy="359.9" r="5.5"/>
<circle cx="411.1" cy="364.0" r="5.5"/>
<circle cx="401.8" cy="371.8" r="5.5"/>
<circle cx="406.5" cy="372.8" r="5.5"/>
<circle cx="394.0" cy="376.1" r="5.5"/>
<circle cx="387.9" cy="378.1" r="5.5"/>
<circle cx="369.8" cy="379.6" r="5.5"/>
<circle cx="393.5" cy="389.8" r="5.5"/>
<circle cx="431.7" cy="381.5" r="5.5"/>
<circle cx="397.7" cy="413.9" r="5.5"/>
<circle cx="423.8" cy="312.3" r="5.5"/>
<circle cx="411.4" cy="317.8" r="5.5"/>
<circle cx="418.7" cy="315.1" r="5.5"/>
<circle cx="425.9" cy="323.0" r="5.5"/>
<circle cx="438.4" cy="327.6" r="5.5"/>
<circle cx="431.8" cy="326.3" r="5.5"/>
<circle cx="433.8" cy="336.8" r="5.5"/>
<circle cx="429.9" cy="339.5" r="5.5"/>
</g></g>
<g clip-path="url(#c20)">
<path d=" M74.00,678.0 V639.77 H89.50 V678.00 M120.50,678.0 V620.66 H136.00 V525.09 H151.50 V563.32 H167.00 V582.43 H182.50 V525.09 H198.00 V505.98 H213.50 V582.43 H229.00 V601.55 H244.50 V658.89 H260.00 V678.00" fill="#0173b2"/>
<path d="M58.50,678.00 H120.50 V491.70 H136.00 V507.80 H151.50 V552.70 H167.00 V557.70 H182.50 V573.70 H198.00 V575.40 H213.50 V596.40 H229.00 V621.00 H244.50 V653.50 H260.00 V673.40 H275.50 V678.00" fill="none" stroke="#989898" stroke-width="4.8" stroke-linejoin="miter"/>
</g>
<g clip-path="url(#c21)">
<path d=" M355.47,678.0 V639.77 H369.96 V620.66 H384.45 V505.98 H398.95 V544.20 H413.44 V505.98 H427.93 H442.43 V601.55 H456.92 V582.43 H471.41 V620.66 H485.90 V678.00" fill="#0173b2"/>
<path d="M326.49,678.00 V621.10 H340.98 V615.60 H355.47 V633.10 H369.96 V628.60 H384.45 V621.70 H398.95 V594.30 H413.44 V559.00 H427.93 V508.70 H442.43 V476.60 H456.92 V594.70 H471.41 V640.10 H485.90 V668.00 H500.39 V674.60 H514.89 V678.00" fill="none" stroke="#989898" stroke-width="4.8" stroke-linejoin="miter"/>
</g>
<g clip-path="url(#c22)">
<path d=" M552.89,678.0 V619.51 H566.47 V600.02 H580.04 V678.00 M593.62,678.0 V639.01 H607.19 V541.53 H620.77 V502.54 H634.34 V561.02 H647.92 V522.03 H661.49 V561.02 H675.07 V580.52 H688.64 V678.00" fill="#0173b2"/>
<path d="M536.60,678.00 H580.04 V590.00 H593.62 V617.60 H607.19 V640.50 H620.77 V555.50 H634.34 V547.20 H647.92 V556.30 H661.49 V503.40 H675.07 V553.30 H688.64 V594.60 H702.22 V651.30 H715.79 V670.30 H729.37 V676.10 H742.94 V678.00" fill="none" stroke="#989898" stroke-width="4.8" stroke-linejoin="miter"/>
</g>
<rect x="58.50" y="0.50" width="217.30" height="211.90" fill="none" stroke="#383838" stroke-width="1.05"/>
<rect x="58.50" y="233.40" width="217.30" height="211.70" fill="none" stroke="#383838" stroke-width="1.05"/>
<rect x="297.50" y="233.40" width="217.40" height="211.70" fill="none" stroke="#383838" stroke-width="1.05"/>
<rect x="58.50" y="466.50" width="217.30" height="211.50" fill="none" stroke="#383838" stroke-width="1.05"/>
<rect x="297.50" y="466.50" width="217.40" height="211.50" fill="none" stroke="#383838" stroke-width="1.05"/>
<rect x="536.60" y="466.50" width="217.20" height="211.50" fill="none" stroke="#383838" stroke-width="1.05"/>
<text transform="translate(44.96,19.82) scale(1.080,1)" class="t">9</text>
<path d="M33.67,15.97H43.17" stroke="#222" stroke-width="0.95"/>
<text transform="translate(37.03,76.35) scale(1.080,1)" class="t">10</text>
<path d="M26.62,72.50H36.12" stroke="#222" stroke-width="0.95"/>
<text transform="translate(37.38,132.88) scale(1.080,1)" class="t">11</text>
<path d="M26.96,129.03H36.46" stroke="#222" stroke-width="0.95"/>
<text transform="translate(37.30,189.41) scale(1.080,1)" class="t">12</text>
<path d="M26.89,185.56H36.39" stroke="#222" stroke-width="0.95"/>
<text transform="translate(45.26,250.63) scale(1.080,1)" class="t">1</text>
<text transform="translate(44.92,292.30) scale(1.080,1)" class="t">0</text>
<text transform="translate(45.26,333.97) scale(1.080,1)" class="t">1</text>
<path d="M34.85,330.12H44.35" stroke="#222" stroke-width="0.95"/>
<text transform="translate(45.19,375.64) scale(1.080,1)" class="t">2</text>
<path d="M34.08,371.79H43.58" stroke="#222" stroke-width="0.95"/>
<text transform="translate(44.93,417.31) scale(1.080,1)" class="t">3</text>
<path d="M33.89,413.46H43.39" stroke="#222" stroke-width="0.95"/>
<text transform="translate(33.09,683.30) scale(1.080,1)" class="t">0.0</text>
<text transform="translate(33.36,634.56) scale(1.080,1)" class="t">0.2</text>
<text transform="translate(32.74,585.82) scale(1.080,1)" class="t">0.4</text>
<text transform="translate(32.96,537.08) scale(1.080,1)" class="t">0.6</text>
<text transform="translate(33.09,488.34) scale(1.080,1)" class="t">0.8</text>
<text transform="translate(54.76,693.80) scale(1.080,1)" class="t">8</text>
<text transform="translate(116.83,693.80) scale(1.080,1)" class="t">9</text>
<text transform="translate(174.42,693.80) scale(1.080,1)" class="t">10</text>
<text transform="translate(236.60,693.80) scale(1.080,1)" class="t">11</text>
<path d="M314.03,689.95H323.53" stroke="#222" stroke-width="0.95"/>
<text transform="translate(324.44,693.80) scale(1.080,1)" class="t">12</text>
<path d="M372.04,689.95H381.54" stroke="#222" stroke-width="0.95"/>
<text transform="translate(382.45,693.80) scale(1.080,1)" class="t">11</text>
<path d="M429.83,689.95H439.33" stroke="#222" stroke-width="0.95"/>
<text transform="translate(440.25,693.80) scale(1.080,1)" class="t">10</text>
<path d="M491.33,689.95H500.83" stroke="#222" stroke-width="0.95"/>
<text transform="translate(502.62,693.80) scale(1.080,1)" class="t">9</text>
<text transform="translate(532.57,693.80) scale(1.080,1)" class="t">7</text>
<text transform="translate(587.16,693.80) scale(1.080,1)" class="t">8</text>
<text transform="translate(641.53,693.80) scale(1.080,1)" class="t">9</text>
<text transform="translate(691.42,693.80) scale(1.080,1)" class="t">10</text>
<text transform="translate(745.90,693.80) scale(1.080,1)" class="t">11</text>
<rect x="578.9" y="314.9" width="133.1" height="48.8" fill="#fff" stroke="#cbcbcb" stroke-width="1.8"/>
<rect x="585.2" y="321.1" width="31.6" height="11" fill="#0173b2"/>
<path d="M585.3,348.5H616.4" stroke="#989898" stroke-width="5" stroke-linecap="round"/>
<text x="630.4" y="332.7" class="l" textLength="74" lengthAdjust="spacingAndGlyphs">VERTICO</text>
<text x="629.5" y="354.7" class="l" textLength="51" lengthAdjust="spacingAndGlyphs">xGASS</text>
<g transform="translate(122.60,715.80)" font-family="Liberation Serif" fill="#1a1a1a"><text transform="translate(-0.33,0.00) scale(1.0103,1)" font-size="16.30" font-style="normal">log</text><text transform="translate(26.90,0.00) scale(1.0470,1)" font-size="16.30" font-style="italic">M</text><polygon points="45.00,-3.60 45.64,-1.88 47.47,-1.80 46.04,-0.66 46.53,1.10 45.00,0.09 43.47,1.10 43.96,-0.66 42.53,-1.80 44.36,-1.88" fill="#1a1a1a"/><text transform="translate(55.63,0.00) scale(0.6337,1)" font-size="16.30" font-style="normal">[</text><text transform="translate(59.03,0.00) scale(1.0114,1)" font-size="16.30" font-style="normal">M</text><circle cx="78.80" cy="-1.00" r="4.10" fill="none" stroke="#1a1a1a" stroke-width="0.8"/><circle cx="78.80" cy="-1.00" r="0.95" fill="#1a1a1a"/><text transform="translate(84.86,0.00) scale(0.5786,1)" font-size="16.30" font-style="normal">]</text></g>
<g transform="translate(351.20,717.90)" font-family="Liberation Serif" fill="#1a1a1a"><text transform="translate(-0.34,0.00) scale(1.0568,1)" font-size="16.30" font-style="normal">log sSFR</text><text transform="translate(70.03,0.00) scale(0.6337,1)" font-size="16.30" font-style="normal">[</text><text transform="translate(73.27,0.00) scale(1.1333,1)" font-size="16.30" font-style="normal">yr</text><path d="M89.70,-9.90H97.60" stroke="#1a1a1a" stroke-width="0.80"/><text transform="translate(99.03,-7.50) scale(1.1078,1)" font-size="10.00" font-style="normal">1</text><text transform="translate(105.91,0.00) scale(0.6613,1)" font-size="16.30" font-style="normal">]</text></g>
<g transform="translate(599.60,715.80)" font-family="Liberation Serif" fill="#1a1a1a"><text transform="translate(-0.32,0.00) scale(0.9756,1)" font-size="16.30" font-style="normal">log</text><text transform="translate(26.50,0.00) scale(1.0401,1)" font-size="16.30" font-style="italic">M</text><text transform="translate(41.34,1.30) scale(1.1334,1)" font-size="8.10" font-style="normal">HI</text><text transform="translate(56.43,0.00) scale(0.6337,1)" font-size="16.30" font-style="normal">[</text><text transform="translate(59.45,0.00) scale(0.9671,1)" font-size="16.30" font-style="normal">M</text><circle cx="80.90" cy="-1.40" r="4.10" fill="none" stroke="#1a1a1a" stroke-width="0.8"/><circle cx="80.90" cy="-1.40" r="0.95" fill="#1a1a1a"/><text transform="translate(87.84,0.00) scale(0.6062,1)" font-size="16.30" font-style="normal">]</text></g>
<g transform="translate(15.00,161.10) rotate(-90)" font-family="Liberation Serif" fill="#1a1a1a"><text transform="translate(-0.34,0.00) scale(1.0568,1)" font-size="16.30" font-style="normal">log sSFR</text><text transform="translate(70.03,0.00) scale(0.6337,1)" font-size="16.30" font-style="normal">[</text><text transform="translate(73.27,0.00) scale(1.1333,1)" font-size="16.30" font-style="normal">yr</text><path d="M89.70,-9.90H97.60" stroke="#1a1a1a" stroke-width="0.80"/><text transform="translate(99.03,-7.50) scale(1.1078,1)" font-size="10.00" font-style="normal">1</text><text transform="translate(105.91,0.00) scale(0.6613,1)" font-size="16.30" font-style="normal">]</text></g>
<g transform="translate(22.50,385.30) rotate(-90)" font-family="Liberation Serif" fill="#1a1a1a"><text transform="translate(-0.32,0.00) scale(0.9707,1)" font-size="16.30" font-style="normal">log</text><text transform="translate(26.40,0.00) scale(1.0608,1)" font-size="16.30" font-style="italic">M</text><text transform="translate(41.37,1.60) scale(0.9840,1)" font-size="8.10" font-style="normal">HI</text><text transform="translate(57.70,0.00) scale(1.3028,1)" font-size="16.30" font-style="normal">/</text><text transform="translate(71.41,0.00) scale(1.0746,1)" font-size="16.30" font-style="italic">M</text><polygon points="89.20,-3.40 89.82,-1.75 91.58,-1.67 90.20,-0.58 90.67,1.12 89.20,0.15 87.73,1.12 88.20,-0.58 86.82,-1.67 88.58,-1.75" fill="#1a1a1a"/></g>
<g transform="translate(26.10,632.20) rotate(-90)" font-family="Liberation Serif" fill="#1a1a1a"><text transform="translate(-0.40,0.00) scale(1.0624,1)" font-size="16.30" font-style="normal">normalized count</text></g>
</svg></body></html>
